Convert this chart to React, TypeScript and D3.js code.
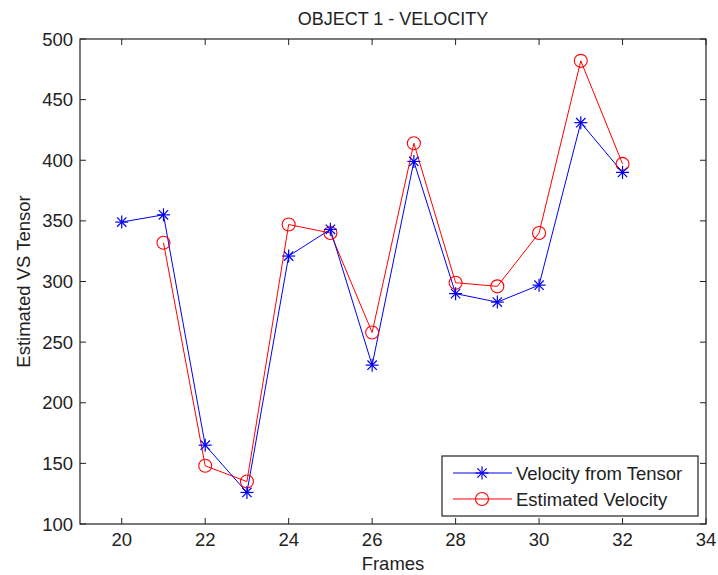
import React from "react";
import * as d3 from "d3";

const framesTensor = [20, 21, 22, 23, 24, 25, 26, 27, 28, 29, 30, 31, 32];
const velocityTensor = [349, 355, 165, 126, 321, 343, 231, 399, 290, 283, 297, 431, 390];
const framesEstimated = [21, 22, 23, 24, 25, 26, 27, 28, 29, 30, 31, 32];
const velocityEstimated = [332, 148, 135, 347, 340, 258, 414, 299, 296, 340, 482, 397];
const xTicks = [20, 22, 24, 26, 28, 30, 32, 34];
const yTicks = [100, 150, 200, 250, 300, 350, 400, 450, 500];
const seriesNames = ["Velocity from Tensor", "Estimated Velocity"];

const W = 718;
const H = 575;
const L = 80, R = 706, T = 39, B = 524;
const FONT = "'Liberation Sans', Arial, sans-serif";
const FS = 18.5;
const BLUE = "#0000ee";
const RED = "#ff0000";

function Star({ x, y, color }: { x: number; y: number; color: string }) {
  const r = 6.5;
  const d = r * 0.72;
  return (
    <g stroke={color} strokeWidth={1.2}>
      <line x1={x - r} y1={y} x2={x + r} y2={y} />
      <line x1={x} y1={y - r} x2={x} y2={y + r} />
      <line x1={x - d} y1={y - d} x2={x + d} y2={y + d} />
      <line x1={x - d} y1={y + d} x2={x + d} y2={y - d} />
    </g>
  );
}

function Circ({ x, y, color }: { x: number; y: number; color: string }) {
  return <circle cx={x} cy={y} r={6.5} fill="none" stroke={color} strokeWidth={1.1} />;
}

export default function App() {
  const x = d3.scaleLinear().domain([19, 34]).range([L, R]);
  const y = d3.scaleLinear().domain([100, 500]).range([B, T]);
  const line = d3
    .line<[number, number]>()
    .x((d) => x(d[0]))
    .y((d) => y(d[1]));
  const tensorPts: [number, number][] = framesTensor.map((f, i) => [f, velocityTensor[i]]);
  const estPts: [number, number][] = framesEstimated.map((f, i) => [f, velocityEstimated[i]]);
  const tl = 6;

  const legL = 442, legT = 456, legR = 698, legB = 516;
  const row1 = 473, row2 = 499;

  return (
    <svg
      width={W}
      height={H}
      style={{ position: "absolute", left: 0, top: 0, background: "#fff" }}
      fontFamily={FONT}
    >
      <rect x={0} y={0} width={W} height={H} fill="#fff" />
      <text x={(L + R) / 2} y={25} textAnchor="middle" fontSize={FS - 0.5} fill="#222">
        OBJECT 1 - VELOCITY
      </text>

      {xTicks.map((t) => (
        <g key={"x" + t} stroke="#222" strokeWidth={1}>
          <line x1={x(t)} y1={B} x2={x(t)} y2={B - tl} />
          <line x1={x(t)} y1={T} x2={x(t)} y2={T + tl} />
        </g>
      ))}
      {yTicks.map((t) => (
        <g key={"y" + t} stroke="#222" strokeWidth={1}>
          <line x1={L} y1={y(t)} x2={L + tl} y2={y(t)} />
          <line x1={R} y1={y(t)} x2={R - tl} y2={y(t)} />
        </g>
      ))}
      {xTicks.map((t) => (
        <text key={"xl" + t} x={x(t)} y={546} textAnchor="middle" fontSize={FS} fill="#222">
          {t}
        </text>
      ))}
      {yTicks.map((t) => (
        <text key={"yl" + t} x={73} y={y(t) + 6.5} textAnchor="end" fontSize={FS} fill="#222">
          {t}
        </text>
      ))}
      <text x={(L + R) / 2} y={570} textAnchor="middle" fontSize={FS} fill="#222">
        Frames
      </text>
      <text
        transform={`translate(30,${(T + B) / 2}) rotate(-90)`}
        textAnchor="middle"
        fontSize={FS}
        fill="#222"
      >
        Estimated VS Tensor
      </text>

      <path d={line(estPts) || ""} fill="none" stroke={RED} strokeWidth={1} />
      <path d={line(tensorPts) || ""} fill="none" stroke={BLUE} strokeWidth={1} />
      {estPts.map((p, i) => (
        <Circ key={"c" + i} x={x(p[0])} y={y(p[1])} color={RED} />
      ))}
      {tensorPts.map((p, i) => (
        <Star key={"s" + i} x={x(p[0])} y={y(p[1])} color={BLUE} />
      ))}

      <rect x={L} y={T} width={R - L} height={B - T} fill="none" stroke="#222" strokeWidth={1.2} />

      <rect x={legL} y={legT} width={legR - legL} height={legB - legT} fill="#fff" stroke="#222" strokeWidth={1.2} />
      <line x1={453} y1={row1} x2={512} y2={row1} stroke={BLUE} strokeWidth={1} />
      <Star x={482} y={row1} color={BLUE} />
      <text x={516} y={row1 + 6.5} fontSize={FS} fill="#222">
        {seriesNames[0]}
      </text>
      <line x1={453} y1={row2} x2={512} y2={row2} stroke={RED} strokeWidth={1} />
      <Circ x={482} y={row2} color={RED} />
      <text x={516} y={row2 + 6.5} fontSize={FS} fill="#222">
        {seriesNames[1]}
      </text>
    </svg>
  );
}
